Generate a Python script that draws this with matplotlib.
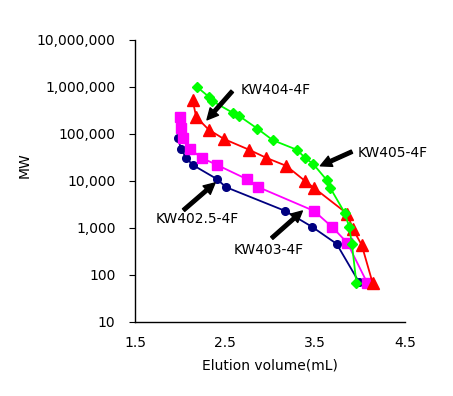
import matplotlib
matplotlib.use("Agg")
import matplotlib.pyplot as plt
from matplotlib.ticker import FuncFormatter, NullLocator

# KW402.5-4F (navy circles)
kw4025_x = [1.98, 2.01, 2.07, 2.14, 2.41, 2.51, 3.17, 3.47, 3.74, 3.99]
kw4025_y = [81000, 48000, 31000, 22000, 11000, 7400, 2300, 1050, 460, 70]

# KW403-4F (magenta squares)
kw403_x = [2.00, 2.01, 2.03, 2.11, 2.24, 2.41, 2.74, 2.87, 3.49, 3.69, 3.86, 4.08]
kw403_y = [230000, 135000, 81000, 48000, 31000, 22000, 11000, 7400, 2300, 1050, 480, 68]

# KW404-4F (red triangles)
kw404_x = [2.14, 2.18, 2.32, 2.49, 2.77, 2.96, 3.18, 3.39, 3.49, 3.86, 3.92, 4.02, 4.14]
kw404_y = [530000, 230000, 123000, 78000, 46000, 31000, 21000, 10000, 7100, 2000, 960, 430, 68]

# KW405-4F (green diamonds)
kw405_x = [2.19, 2.32, 2.36, 2.59, 2.66, 2.86, 3.03, 3.30, 3.39, 3.48, 3.63, 3.67, 3.83, 3.88, 3.91, 3.96]
kw405_y = [1000000, 620000, 500000, 280000, 240000, 130000, 74000, 46000, 31000, 23000,
           10500, 7100, 2100, 1050, 460, 68]

fig = plt.figure(figsize=(4.53, 3.96), dpi=100, facecolor='white')
ax = fig.add_axes([0.298, 0.187, 0.596, 0.712])

ax.plot(kw4025_x, kw4025_y, color='#000080', marker='o', markersize=5.5, lw=1.3)
ax.plot(kw403_x, kw403_y, color='#FF00FF', marker='s', markersize=6.5, lw=1.3)
ax.plot(kw404_x, kw404_y, color='#FF0000', marker='^', markersize=8, lw=1.3)
ax.plot(kw405_x, kw405_y, color='#00FF00', marker='D', markersize=5.5, lw=1.3)

ax.set_yscale('log')
ax.set_ylim(10, 1e7)
ax.set_xlim(1.5, 4.5)
ax.set_xticks([1.5, 2.5, 3.5, 4.5])
ax.set_yticks([10, 100, 1000, 10000, 100000, 1000000, 10000000])
ax.yaxis.set_minor_locator(NullLocator())
ax.yaxis.set_major_formatter(FuncFormatter(lambda v, p: f"{int(round(v)):,}"))
ax.tick_params(axis='x', length=0, pad=10, labelsize=10)
ax.tick_params(axis='y', length=4, direction='out', pad=10, labelsize=10)

for s in ['top', 'right']:
    ax.spines[s].set_visible(False)
for s in ['left', 'bottom']:
    ax.spines[s].set_linewidth(1.0)

ax.set_xlabel('Elution volume(mL)', fontsize=10, labelpad=6)
# y label sits far left, away from the tick labels
fig.text(0.055, 0.583, 'MW', rotation=90, fontsize=10, ha='center', va='center')

arrow = dict(facecolor='black', edgecolor='black', width=2.5, headwidth=8, headlength=8, shrink=0)

ax.annotate('', xy=(2.30, 200000), xytext=(2.58, 810000), arrowprops=arrow)
ax.text(2.67, 870000, 'KW404-4F', fontsize=10, ha='left', va='center')

ax.annotate('', xy=(3.56, 21000), xytext=(3.91, 42000), arrowprops=arrow)
ax.text(3.97, 40000, 'KW405-4F', fontsize=10, ha='left', va='center')

ax.annotate('', xy=(2.39, 9100), xytext=(2.04, 2400), arrowprops=arrow)
ax.text(2.19, 1550, 'KW402.5-4F', fontsize=10, ha='center', va='center')

ax.annotate('', xy=(3.36, 2300), xytext=(3.02, 610), arrowprops=arrow)
ax.text(2.98, 340, 'KW403-4F', fontsize=10, ha='center', va='center')

fig.savefig('out.png', dpi=100)
